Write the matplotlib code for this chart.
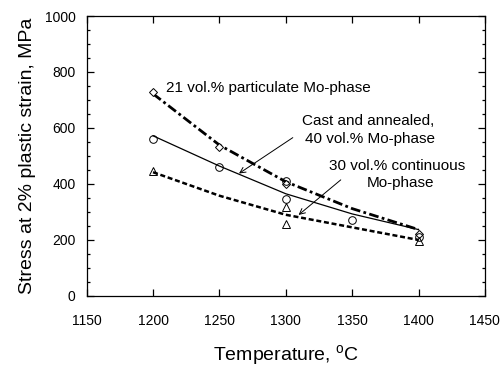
import matplotlib
matplotlib.use('Agg')
import matplotlib.pyplot as plt
from matplotlib.ticker import MultipleLocator

plt.rcParams['font.family'] = ['Liberation Sans', 'DejaVu Sans']

# Measured points
temp_part = [1200, 1250, 1300, 1400]
stress_part = [728, 532, 400, 222]

temp_cast = [1200, 1250, 1300, 1300, 1350, 1400]
stress_cast = [561, 460, 411, 345, 273, 212]

temp_cont = [1200, 1300, 1300, 1400]
stress_cont = [446, 319, 256, 197]

# Fitted curves
curve_temp = [1200, 1250, 1300, 1350, 1400]
curve_part = [722, 539, 408, 312, 237]
curve_cast = [572, 464, 365, 293, 237]
curve_cont = [442, 358, 290, 245, 200]

fig = plt.figure(figsize=(5.02, 3.69), dpi=100)
ax = fig.add_axes([0.1727, 0.198, 0.7933, 0.7586])

ax.plot(curve_temp, curve_part, color='black', lw=2.0, linestyle=(0, (3.5, 1.2, 1, 1.2)))
ax.plot(curve_temp, curve_cast, color='black', lw=0.9)
ax.plot(curve_temp, curve_cont, color='black', lw=1.8, linestyle=(0, (2, 1.1)))

ax.plot(temp_part, stress_part, 'D', ms=4.5, mfc='white', mec='black', mew=0.7)
ax.plot(temp_cast, stress_cast, 'o', ms=5.5, mfc='none', mec='black', mew=0.7)
ax.plot(temp_cont, stress_cont, '^', ms=6, mfc='none', mec='black', mew=0.7)

ax.set_xlim(1150, 1450)
ax.set_ylim(0, 1000)
ax.xaxis.set_major_locator(MultipleLocator(50))
ax.yaxis.set_major_locator(MultipleLocator(200))
ax.yaxis.set_minor_locator(MultipleLocator(50))
ax.tick_params(which='both', direction='in', top=True, right=True, width=0.9, labelsize=10)
ax.tick_params(axis='x', which='major', length=5, pad=13)
ax.tick_params(axis='y', which='major', length=5, pad=8)
ax.tick_params(axis='y', which='minor', length=2.5)
for s in ax.spines.values():
    s.set_linewidth(0.9)

ax.set_xlabel('Temperature, $\\mathregular{^oC}$', fontsize=14, labelpad=11)
ax.set_ylabel('Stress at 2% plastic strain, MPa', fontsize=14, labelpad=6)

# annotations
ax.text(1210, 730, '21 vol.% particulate Mo-phase', fontsize=11, va='baseline')

ax.text(1312, 611, 'Cast and annealed,', fontsize=11, va='baseline')
ax.text(1314.5, 545, '40 vol.% Mo-phase', fontsize=11, va='baseline')
ax.annotate('', xy=(1263, 432), xytext=(1307, 571),
            arrowprops=dict(arrowstyle='->', lw=0.7, color='black'))

ax.text(1332.5, 450, '30 vol.% continuous', fontsize=11, va='baseline')
ax.text(1361, 388, 'Mo-phase', fontsize=11, va='baseline')
ax.annotate('', xy=(1308, 283), xytext=(1343, 421),
            arrowprops=dict(arrowstyle='->', lw=0.7, color='black'))

fig.savefig('out.png', dpi=100)
